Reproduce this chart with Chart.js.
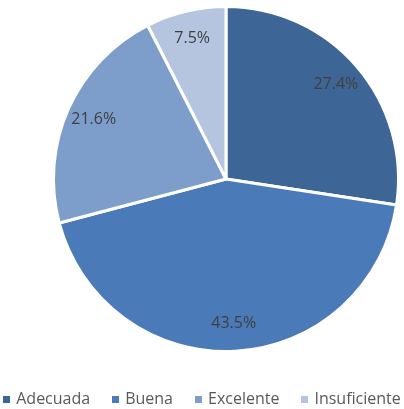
<!DOCTYPE html>
<html>
<head>
<meta charset="utf-8">
<script src="https://cdn.jsdelivr.net/npm/chart.js@4"></script>
<style>
  body { margin: 0; background: #fff; }
  #wrap { position: relative; width: 404px; height: 409px; }
  #legend {
    position: absolute; left: 0; top: 387px; width: 404px;
    display: flex; justify-content: center; gap: 22px;
    font-family: "Open Sans", sans-serif; font-size: 16px; color: #595959;
    line-height: 22px;
  }
  #legend span.box { display: inline-block; width: 7px; height: 7px; margin-right: 6px; vertical-align: 1px; }
</style>
</head>
<body>
<div id="wrap">
  <canvas id="pie" width="404" height="409"></canvas>
  <div id="legend"></div>
</div>
<script>
const categories = ['Adecuada', 'Buena', 'Excelente', 'Insuficiente'];
const values = [27.4, 43.5, 21.6, 7.5];
const colors = ['#3d6595', '#4a7bb8', '#7d9dcb', '#b5c5e0'];

// percent labels drawn inside each slice
const sliceLabels = {
  id: 'sliceLabels',
  afterDatasetsDraw(chart) {
    const ctx = chart.ctx;
    const meta = chart.getDatasetMeta(0);
    ctx.save();
    ctx.font = '16px "Open Sans", sans-serif';
    ctx.fillStyle = '#404040';
    ctx.textAlign = 'center';
    ctx.textBaseline = 'middle';
    meta.data.forEach((arc, i) => {
      const mid = (arc.startAngle + arc.endAngle) / 2;
      const r = arc.outerRadius * 0.84;
      ctx.fillText(values[i].toFixed(1) + '%', arc.x + Math.cos(mid) * r, arc.y + Math.sin(mid) * r);
    });
    ctx.restore();
  }
};

new Chart(document.getElementById('pie'), {
  type: 'pie',
  data: {
    labels: categories,
    datasets: [{
      data: values,
      backgroundColor: colors,
      borderColor: '#ffffff',
      borderWidth: 3
    }]
  },
  options: {
    responsive: false,
    animation: false,
    layout: { padding: { left: 52, right: 4, top: 5, bottom: 56 } },
    plugins: { legend: { display: false }, tooltip: { enabled: false } }
  },
  plugins: [sliceLabels]
});

const legend = document.getElementById('legend');
categories.forEach((c, i) => {
  const item = document.createElement('div');
  item.innerHTML = `<span class="box" style="background:${colors[i]}"></span>${c}`;
  legend.appendChild(item);
});
</script>
</body>
</html>
